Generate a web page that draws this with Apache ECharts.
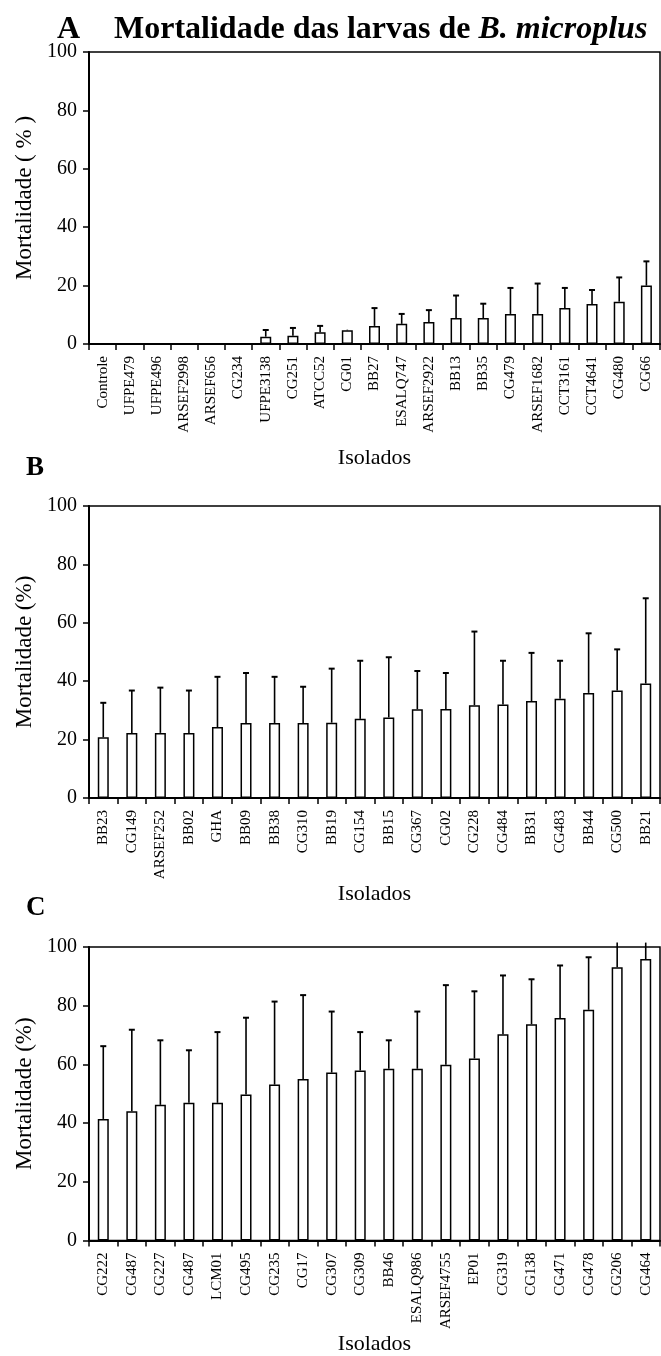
<!DOCTYPE html>
<html>
<head>
<meta charset="utf-8">
<script src="https://cdn.jsdelivr.net/npm/echarts@6/dist/echarts.min.js"></script>
<style>
  html, body { margin: 0; padding: 0; background: #fff; }
  #chart { width: 661px; height: 1356px; }
</style>
</head>
<body>
<div id="chart"></div>
<script>
// panel A
var isolatesA = ['Controle', 'UFPE479', 'UFPE496', 'ARSEF2998', 'ARSEF656', 'CG234', 'UFPE3138', 'CG251',
  'ATCC52', 'CG01', 'BB27', 'ESALQ747', 'ARSEF2922', 'BB13', 'BB35', 'CG479', 'ARSEF1682', 'CCT3161',
  'CCT4641', 'CG480', 'CG66'];
var mortalityA = [0, 0, 0, 0, 0, 0, 2.5, 2.8, 4.0, 4.7, 6.2, 6.9, 7.5, 8.9, 8.9, 10.3, 10.3, 12.3, 13.7, 14.5, 20.0];
var sdA = [0, 0, 0, 0, 0, 0, 2.3, 2.7, 2.2, 0.2, 6.1, 3.4, 4.1, 7.7, 4.9, 8.9, 10.4, 6.9, 4.8, 8.3, 8.3];

// panel B
var isolatesB = ['BB23', 'CG149', 'ARSEF252', 'BB02', 'GHA', 'BB09', 'BB38', 'CG310', 'BB19', 'CG154',
  'BB15', 'CG367', 'CG02', 'CG228', 'CG484', 'BB31', 'CG483', 'BB44', 'CG500', 'BB21'];
var mortalityB = [20.8, 22.3, 22.3, 22.3, 24.3, 25.7, 25.7, 25.7, 25.8, 27.1, 27.6, 30.4, 30.5, 31.8, 32.0,
  33.2, 34.0, 36.0, 36.8, 39.2];
var sdB = [11.8, 14.5, 15.5, 14.5, 17.2, 17.1, 15.8, 12.4, 18.5, 19.9, 20.6, 13.1, 12.3, 25.2, 15.0, 16.5,
  13.0, 20.4, 14.1, 29.2];

// panel C
var isolatesC = ['CG222', 'CG487', 'CG227', 'CG487', 'LCM01', 'CG495', 'CG235', 'CG17', 'CG307', 'CG309',
  'BB46', 'ESALQ986', 'ARSEF4755', 'EP01', 'CG319', 'CG138', 'CG471', 'CG478', 'CG206', 'CG464'];
var mortalityC = [41.4, 44.0, 46.2, 46.9, 46.9, 49.7, 53.1, 55.0, 57.2, 57.9, 58.5, 58.5, 59.9, 62.0, 70.3,
  73.7, 75.8, 78.6, 93.1, 95.9];
var sdC = [24.8, 27.8, 22.0, 17.9, 24.1, 26.2, 28.3, 28.6, 20.8, 13.1, 9.7, 19.5, 27.1, 22.9, 20.0, 15.3,
  17.9, 17.9, 8.4, 5.6];

var yTicks = [0, 20, 40, 60, 80, 100];

var FONT = 'Liberation Serif';
var chart = echarts.init(document.getElementById('chart'));

var panels = [
  {cats: isolatesA, vals: mortalityA, sd: sdA, top: 52, height: 292, nameGap: 103, yName: 'Mortalidade ( % )'},
  {cats: isolatesB, vals: mortalityB, sd: sdB, top: 506, height: 292, nameGap: 76, yName: 'Mortalidade (%)'},
  {cats: isolatesC, vals: mortalityC, sd: sdC, top: 947, height: 300, nameGap: 79, yName: 'Mortalidade (%)'}
];

function errorBar(params, api) {
  var i = api.value(0);
  var lo = api.coord([i, api.value(1)]);
  var hi = api.coord([i, api.value(2)]);
  var children = [{
    type: 'line',
    shape: {x1: lo[0], y1: lo[1], x2: hi[0], y2: hi[1]},
    style: {stroke: '#000', lineWidth: 1.6}
  }];
  // no cap where the bar runs past the top of the frame
  if (api.value(2) <= 100 && api.value(2) - api.value(1) > 0.5) {
    children.push({
      type: 'line',
      shape: {x1: hi[0] - 3, y1: hi[1], x2: hi[0] + 3, y2: hi[1]},
      style: {stroke: '#000', lineWidth: 2}
    });
  }
  return {type: 'group', children: children};
}

var grids = [], xAxes = [], yAxes = [], series = [];
panels.forEach(function (p, k) {
  grids.push({
    left: 89, right: 1, top: p.top, height: p.height,
    show: true, borderColor: '#000', borderWidth: 1.5, backgroundColor: 'transparent'
  });
  xAxes.push({
    type: 'category', gridIndex: k, data: p.cats,
    name: 'Isolados', nameLocation: 'middle', nameGap: p.nameGap,
    nameTextStyle: {fontFamily: FONT, fontSize: 22, color: '#000'},
    axisLine: {lineStyle: {color: '#000', width: 2}},
    axisTick: {show: true, length: 6, lineStyle: {color: '#000', width: 1.5}},
    axisLabel: {rotate: 90, interval: 0, margin: 12, fontFamily: FONT, fontSize: 15, color: '#000'}
  });
  yAxes.push({
    type: 'value', gridIndex: k, min: 0, max: 100, interval: 20,
    name: p.yName, nameLocation: 'middle', nameRotate: 90, nameGap: 50,
    nameTextStyle: {fontFamily: FONT, fontSize: 23, color: '#000'},
    axisLine: {show: true, lineStyle: {color: '#000', width: 2}},
    axisTick: {show: true, length: 6, lineStyle: {color: '#000', width: 1.5}},
    axisLabel: {margin: 12, fontFamily: FONT, fontSize: 20, color: '#000',
      formatter: function (v) { return yTicks.indexOf(v) >= 0 ? String(v) : ''; }},
    splitLine: {show: false}
  });
  series.push({
    type: 'bar', xAxisIndex: k, yAxisIndex: k, data: p.vals, barWidth: 11,
    itemStyle: {color: '#fff', borderColor: '#000', borderWidth: 1.5},
    silent: true, animation: false
  });
  series.push({
    type: 'custom', xAxisIndex: k, yAxisIndex: k, renderItem: errorBar, z: 3,
    data: p.vals.map(function (v, i) { return [i, v, v + p.sd[i]]; }),
    silent: true, animation: false
  });
});

chart.setOption({
  backgroundColor: '#fff',
  animation: false,
  title: [
    {text: 'A', left: 52, top: 9, textStyle: {fontFamily: FONT, fontSize: 32, fontWeight: 'bold', color: '#000'}},
    {text: '{b|Mortalidade das larvas de }{i|B. microplus}', left: 109, top: 9,
      textStyle: {rich: {
        b: {fontFamily: FONT, fontSize: 32, fontWeight: 'bold', color: '#000'},
        i: {fontFamily: FONT, fontSize: 32, fontWeight: 'bold', fontStyle: 'italic', color: '#000'}
      }}},
    {text: 'B', left: 21, top: 450, textStyle: {fontFamily: FONT, fontSize: 27, fontWeight: 'bold', color: '#000'}},
    {text: 'C', left: 21, top: 890, textStyle: {fontFamily: FONT, fontSize: 27, fontWeight: 'bold', color: '#000'}}
  ],
  grid: grids,
  xAxis: xAxes,
  yAxis: yAxes,
  series: series
});
</script>
</body>
</html>
